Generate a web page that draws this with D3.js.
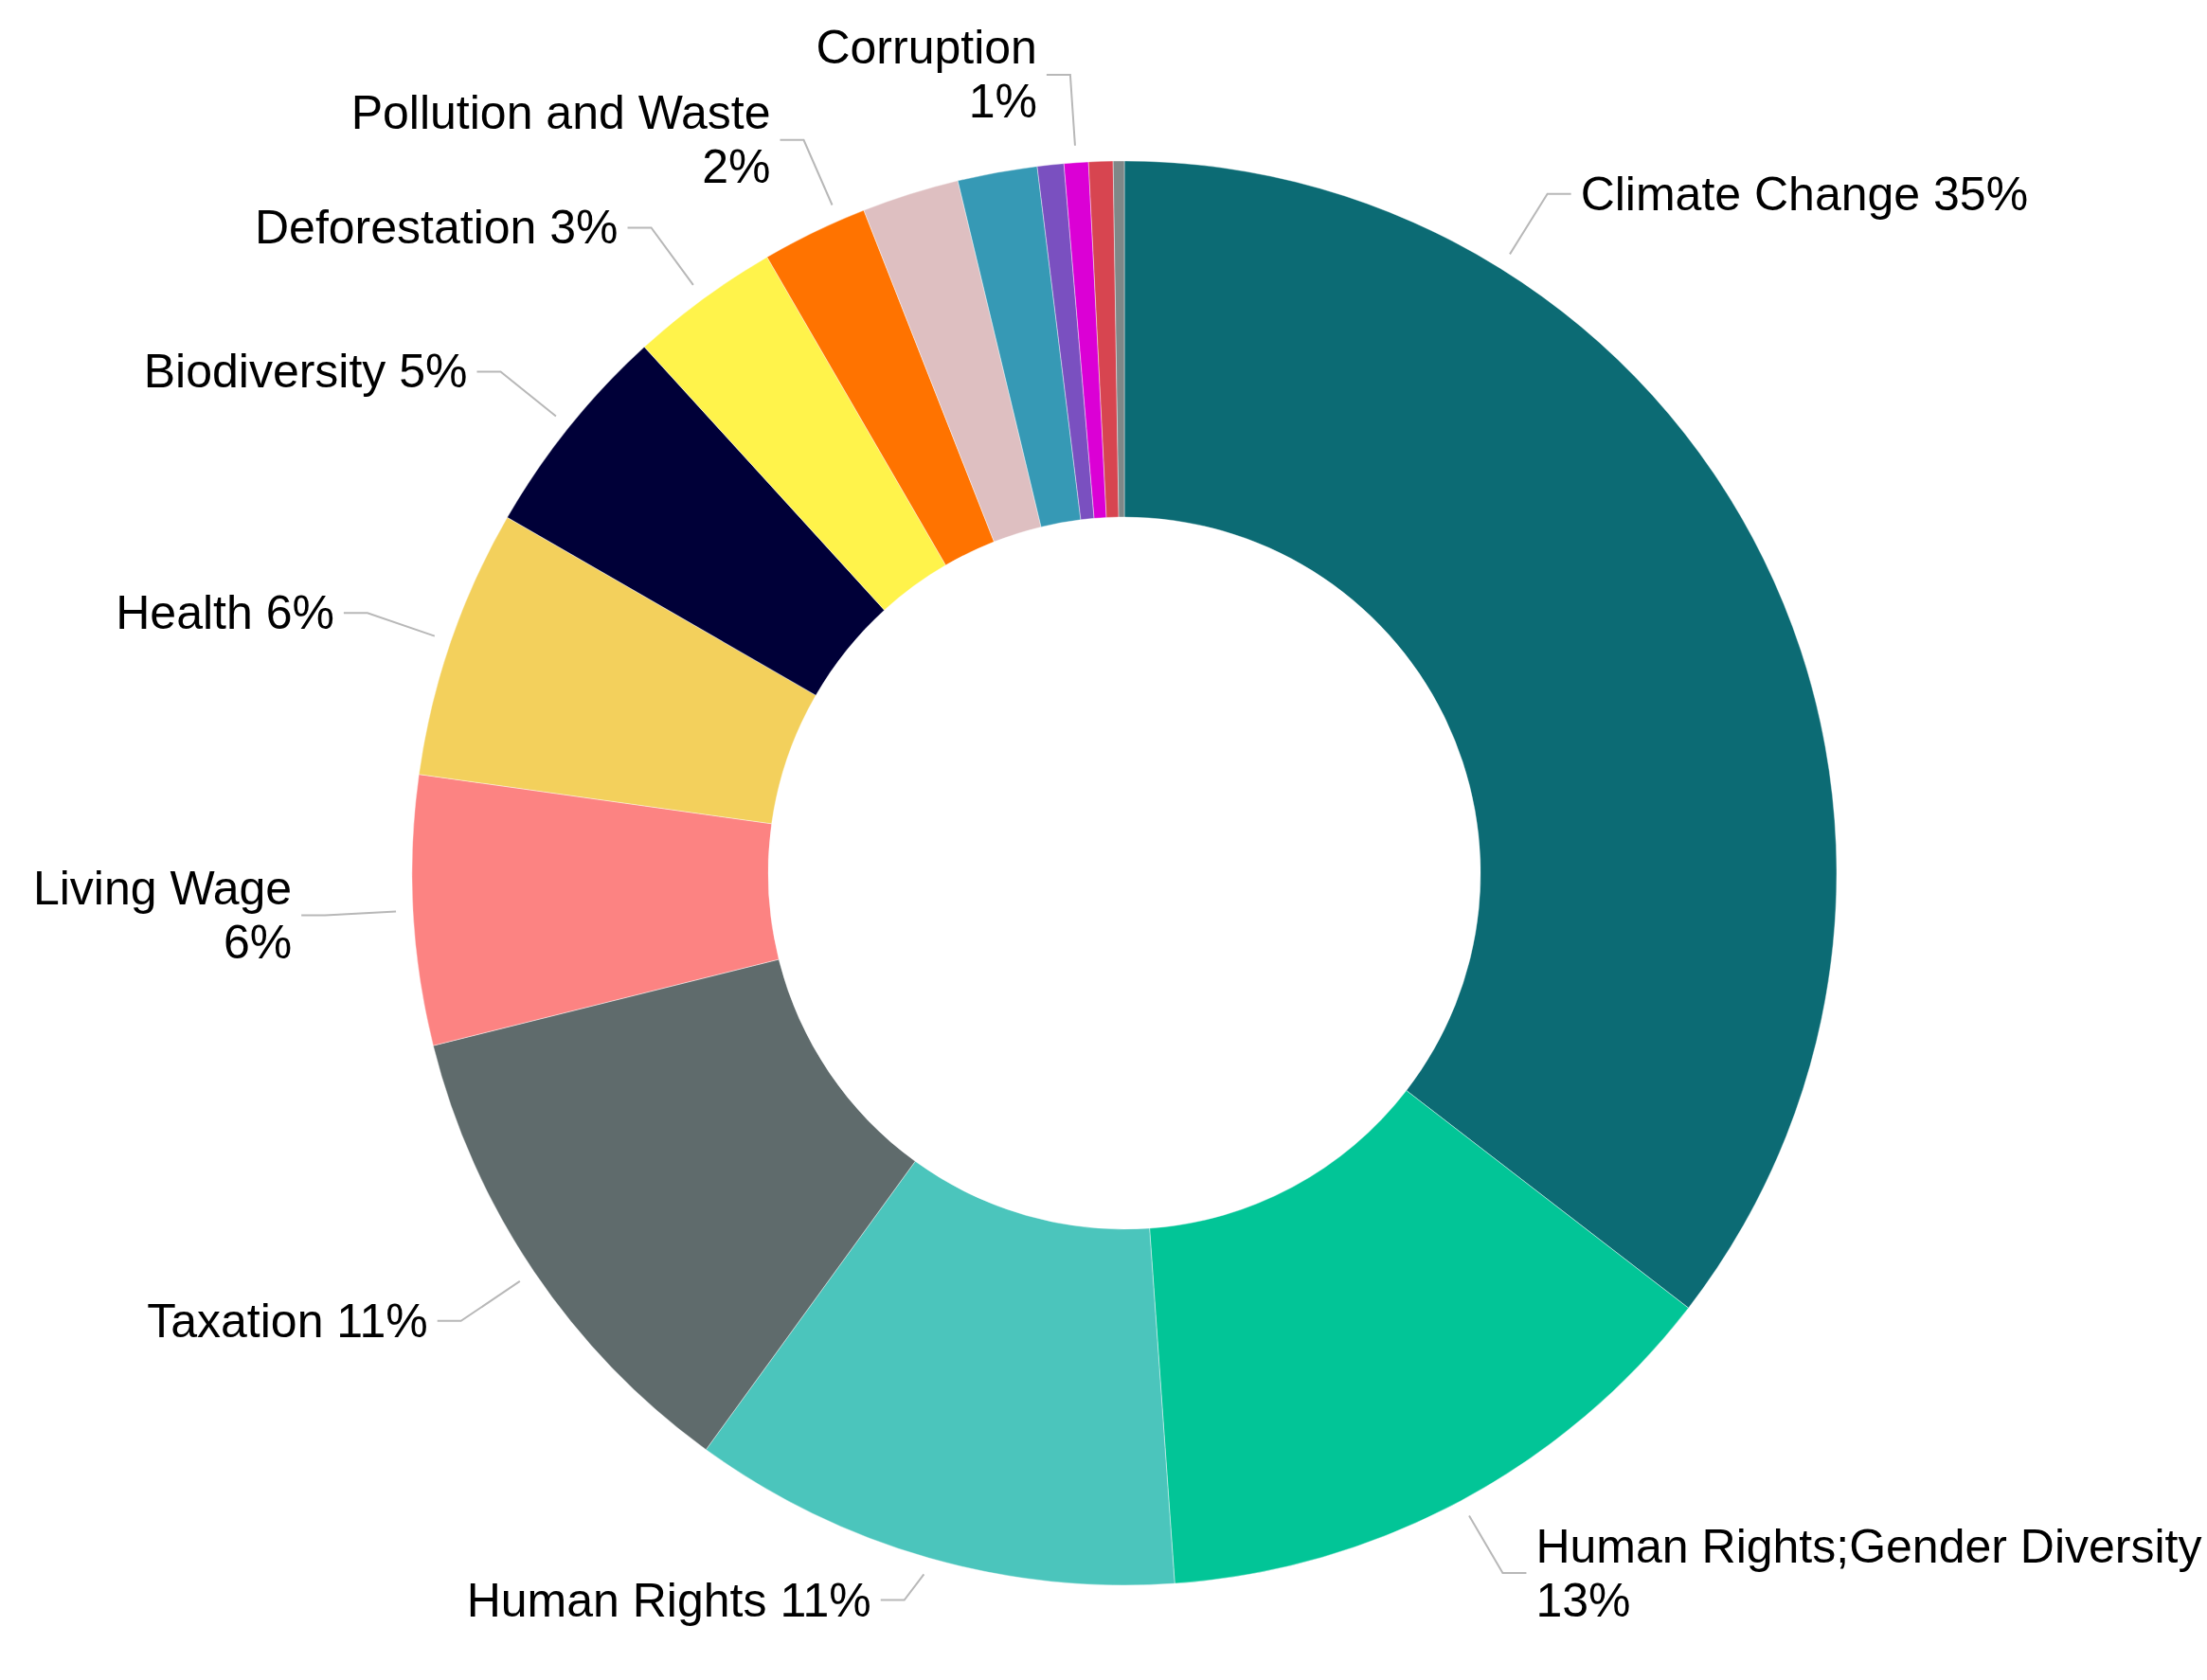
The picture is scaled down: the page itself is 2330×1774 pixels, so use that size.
<!DOCTYPE html>
<html>
<head>
<meta charset="utf-8">
<script src="https://cdn.jsdelivr.net/npm/d3@7"></script>
<style>
    html, body { margin: 0; padding: 0; background: #ffffff; }
    svg { display: block; }
</style>
</head>
<body>
<svg id="chart"></svg>
<script>
// data, clockwise from 12 o'clock
const categories = [
    'Climate Change', 'Human Rights;Gender Diversity', 'Human Rights', 'Taxation',
    'Living Wage', 'Health', 'Biodiversity', 'Deforestation', 'Pollution and Waste',
    'Other A', 'Other B', 'Other C', 'Corruption', 'Other D', 'Other E',
]
const values = [35.4, 13.4, 11.1, 11.1, 6.1, 6.1, 4.9, 3.4, 2.4, 2.2, 1.8, 0.6, 0.55, 0.55, 0.25]
const colors = [
    '#0c6b74', '#02c597', '#4bc5bc', '#5f6b6c', '#fc8382', '#f3d05c', '#000038', '#fff34b',
    '#ff7300', '#debfc1', '#3699b5', '#7a50c0', '#db00d5', '#d74550', '#7f8888',
]
// small slices without a label in the original
const showLabel = [true, true, true, true, true, true, true, true, true, false, false, false, true, false, false]
// labels where the percent goes on a second line
const wrapLabels = ['Human Rights;Gender Diversity', 'Living Wage', 'Pollution and Waste', 'Corruption']

// layout
const width = 2330
const height = 1774
const cx = 1187
const cy = 922
const outerR = 752
const innerR = 376
const fontSize = 50
const lineH = 57
// where along the slice the leader starts (default: middle)
const labelAnchor = { 'Climate Change': 0.25, 'Pollution and Waste': 0.75 }
const labelBottom = 1718

const rows = categories.map((c, i) => ({ name: c, value: values[i], color: colors[i], show: showLabel[i] }))
const total = d3.sum(values)

const svg = d3.select('#chart')
    .attr('width', width)
    .attr('height', height)

const g = svg.append('g').attr('transform', `translate(${cx},${cy})`)

const pie = d3.pie().sort(null).value(d => d.value)
const arc = d3.arc().innerRadius(innerR).outerRadius(outerR)
const arcs = pie(rows)

g.append('g')
    .selectAll('path')
    .data(arcs)
    .join('path')
    .attr('d', arc)
    .attr('fill', d => d.data.color)
    .attr('stroke', '#ffffff')
    .attr('stroke-opacity', 0.5)
    .attr('stroke-width', 0.8)

// 极坐标 -> 平面坐标
const polar = (a, r) => [r * Math.sin(a), -r * Math.cos(a)]

const labels = g.append('g').attr('class', 'labels')

arcs.filter(d => d.data.show).forEach((d) => {
    const frac = labelAnchor[d.data.name] ?? 0.5
    const a = d.startAngle + (d.endAngle - d.startAngle) * frac
    const right = Math.sin(a) >= 0
    const p0 = polar(a, outerR + 18)
    const p1 = polar(a, outerR + 93)

    const pct = `${Math.round(d.data.value / total * 100)}%`
    const lines = wrapLabels.includes(d.data.name) ? [d.data.name, pct] : [`${d.data.name} ${pct}`]
    const half = lines.length * lineH / 2

    // keep the label block inside the bottom of the chart
    const y = Math.min(p1[1], labelBottom - cy - half)
    const x2 = p1[0] + (right ? 25 : -25)

    labels.append('path')
        .attr('d', `M${p0[0]},${p0[1]}L${p1[0]},${y}L${x2},${y}`)
        .attr('fill', 'none')
        .attr('stroke', '#b8b8b8')
        .attr('stroke-width', 2)

    const text = labels.append('text')
        .attr('x', x2 + (right ? 10 : -10))
        .attr('text-anchor', right ? 'start' : 'end')
        .attr('font-family', '"Liberation Sans", Arial, sans-serif')
        .attr('font-size', fontSize)
        .attr('fill', '#000000')

    lines.forEach((t, i) => {
        text.append('tspan')
            .attr('x', x2 + (right ? 10 : -10))
            .attr('y', y + 17 + (i - (lines.length - 1) / 2) * lineH)
            .text(t)
    })
})
</script>
</body>
</html>
